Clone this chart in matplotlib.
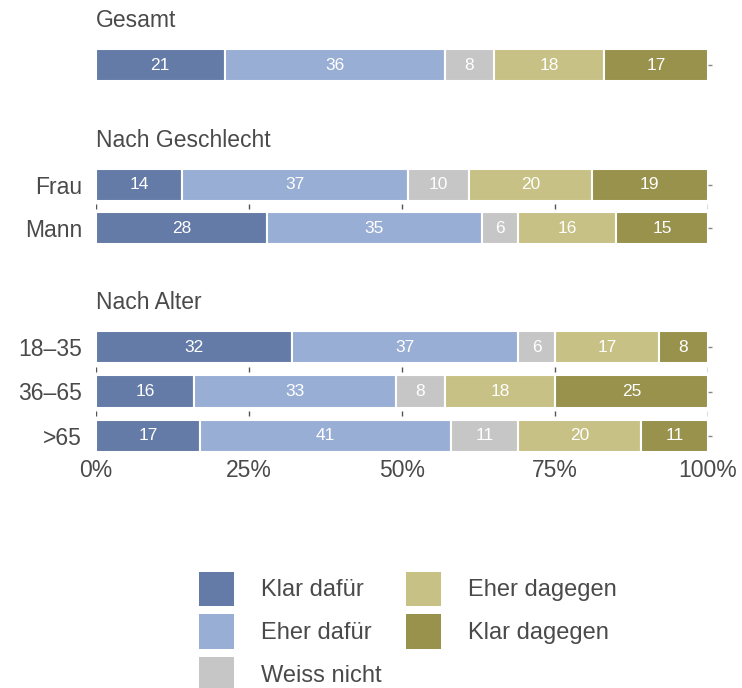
import matplotlib
matplotlib.use("Agg")
import matplotlib.pyplot as plt
from matplotlib.patches import Patch
import numpy as np

plt.rcParams['font.family'] = ['Liberation Sans', 'DejaVu Sans']

categories = ["Klar dafür", "Eher dafür", "Weiss nicht", "Eher dagegen", "Klar dagegen"]
colors = ["#637ba6", "#99aed5", "#c6c6c6", "#c7c185", "#99924c"]

group_titles = ["Gesamt", "Nach Geschlecht", "Nach Alter"]
group_rows = [[""], ["Frau", "Mann"], ["18–35", "36–65", ">65"]]
group_values = [
    [[21, 36, 8, 18, 17]],
    [[14, 37, 10, 20, 19],
     [28, 35, 6, 16, 15]],
    [[32, 37, 6, 17, 8],
     [16, 33, 8, 18, 25],
     [17, 41, 11, 20, 11]],
]
xticks = [0, 25, 50, 75, 100]
xticklabels = ["0%", "25%", "50%", "75%", "100%"]

W, H = 742, 688
fig = plt.figure(figsize=(W / 100, H / 100), dpi=100)
text_col = "#4a4a4a"

# panel pixel boxes (top, bottom)
boxes = [(43, 87), (163, 250), (325, 458)]
x0, x1 = 96, 708

axes = []
for gi, (title, rows, vals) in enumerate(zip(group_titles, group_rows, group_values)):
    top, bot = boxes[gi]
    ax = fig.add_axes([x0 / W, 1 - bot / H, (x1 - x0) / W, (bot - top) / H])
    axes.append(ax)
    vals = np.array(vals, dtype=float)
    n = len(rows)
    y = np.arange(n)
    left = np.zeros(n)
    for ci, cat in enumerate(categories):
        w = vals[:, ci]
        ax.barh(y, w, left=left, height=0.73, color=colors[ci],
                edgecolor="white", linewidth=1.5, zorder=2)
        for yi in range(n):
            ax.text(left[yi] + w[yi] / 2, y[yi], f"{int(w[yi])}",
                    ha="center", va="center", color="white", fontsize=12.5, zorder=3)
        left += w
    # small marks between rows
    for yi in range(n - 1):
        ax.vlines(xticks, yi + 0.45, yi + 0.55, color="#555555", lw=1, zorder=1)
    ax.set_xlim(0, 100)
    ax.set_ylim(n - 0.5, -0.5)
    ax.set_yticks(y)
    ax.set_yticklabels(rows, fontsize=16.5, color=text_col)
    ax.tick_params(axis="y", left=False, right=True, length=3, width=1,
                   color="#888888", pad=7)
    for s in ax.spines.values():
        s.set_visible(False)
    if gi == 2:
        ax.set_xticks(xticks)
        ax.set_xticklabels(xticklabels, fontsize=16.5, color=text_col)
        ax.tick_params(axis="x", length=0, pad=1)
    else:
        ax.set_xticks([])
    ax.annotate(title, xy=(0, 1), xycoords="axes fraction", xytext=(0, 16),
                textcoords="offset points", ha="left", va="center",
                fontsize=16.5, color=text_col)

handles = [Patch(facecolor=c, edgecolor="none") for c in colors]
fig.legend(handles, categories, loc="upper center", ncol=2,
           bbox_to_anchor=(408 / W, 1 - 560 / H), frameon=False,
           fontsize=17, labelcolor=text_col, handlelength=1.45, handleheight=1.85,
           handletextpad=1.15, columnspacing=1.06, labelspacing=0.36, borderpad=0)

fig.savefig("out.png", dpi=100)
